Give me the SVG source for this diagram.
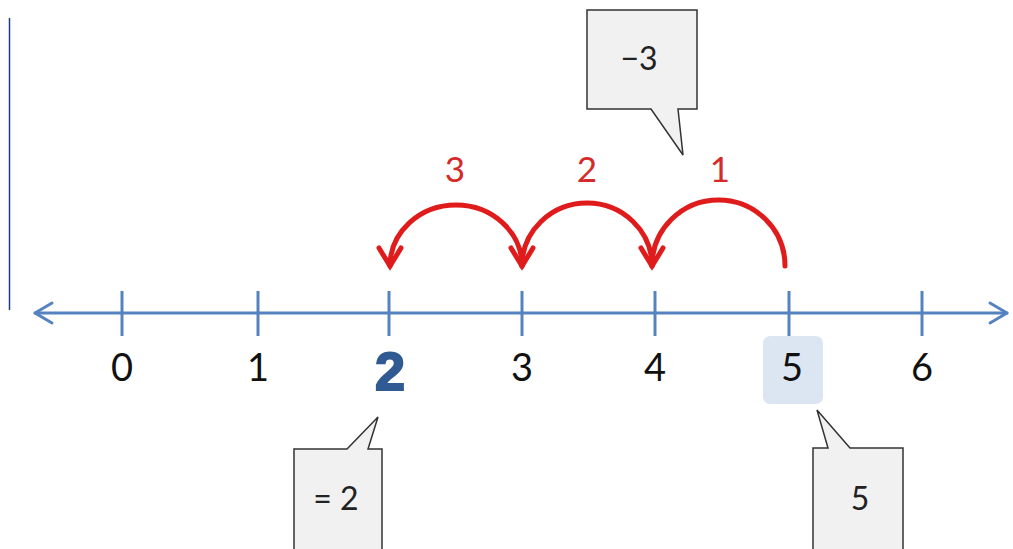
<svg xmlns="http://www.w3.org/2000/svg" width="1013" height="549" viewBox="0 0 1013 549">
<defs>
<style>
.axis{stroke:#5582c0;stroke-width:3;fill:none;stroke-linecap:round;stroke-linejoin:round}
.tick{stroke:#5582c0;stroke-width:3}
.num{font-family:Lato,"Open Sans",sans-serif;font-size:38px;fill:#111;text-anchor:middle}
.red{font-family:Lato,"Open Sans",sans-serif;font-size:35px;fill:#d42a2a;text-anchor:middle}
.jump{stroke:#e01b1b;stroke-width:5;fill:none;stroke-linecap:round}
.call{fill:#f1f1f1;stroke:#333;stroke-width:1.5;stroke-linejoin:miter}
.ctext{font-family:Lato,"Open Sans",sans-serif;font-size:32px;fill:#222;text-anchor:middle}
</style>
<marker id="ah" markerUnits="userSpaceOnUse" markerWidth="40" markerHeight="40" refX="0" refY="0" viewBox="-25 -20 30 40" orient="auto">
<path d="M-18,-11 L0,0 L-18,11" stroke="#e01b1b" stroke-width="5" fill="none" stroke-linecap="round" stroke-linejoin="miter"/>
</marker>
</defs>
<rect width="1013" height="549" fill="#fff"/>
<line x1="9.5" y1="18" x2="9.5" y2="310" stroke="#1f3c88" stroke-width="1.5"/>
<g id="numberline">
<path class="axis" d="M35,313 H1007"/>
<path class="axis" d="M52,303 L35,313 L52,323"/>
<path class="axis" d="M990,303 L1007,313 L990,323"/>
<line class="tick" x1="122" y1="291" x2="122" y2="336"/>
<line class="tick" x1="258" y1="291" x2="258" y2="336"/>
<line class="tick" x1="389" y1="291" x2="389" y2="336"/>
<line class="tick" x1="522" y1="291" x2="522" y2="336"/>
<line class="tick" x1="655" y1="291" x2="655" y2="336"/>
<line class="tick" x1="789" y1="291" x2="789" y2="336"/>
<line class="tick" x1="922" y1="291" x2="922" y2="336"/>
</g>
<g id="labels">
<text class="num" x="122" y="381">0</text>
<text class="num" x="258" y="381">1</text>
<text x="390" y="390" font-family="'Liberation Sans',Arial,sans-serif" font-weight="bold" font-size="54" fill="#2f5a92" stroke="#2f5a92" stroke-width="2" text-anchor="middle">2</text>
<text class="num" x="522" y="381">3</text>
<text class="num" x="655" y="381">4</text>
</g>
<g id="highlight5">
<rect x="763" y="336" width="60" height="68" rx="7" fill="#dce6f2"/>
<text class="num" x="792" y="381">5</text>
</g>
<g id="label6"><text class="num" x="922" y="381">6</text></g>
<g id="connectors">
<path class="jump" d="M785,266 A66.5,66 0 0 0 652,266" marker-end="url(#ah)"/>
<path class="jump" d="M652,266 A65,63 0 0 0 522,266" marker-end="url(#ah)"/>
<path class="jump" d="M522,266 A66,61 0 0 0 390,266" marker-end="url(#ah)"/>
</g>
<g id="steps">
<text class="red" x="455" y="182">3</text>
<text class="red" x="587" y="182">2</text>
<text class="red" x="720" y="182">1</text>
</g>
<g id="callout-minus3">
<path class="call" d="M587,10 H697 V109 H678 L683,155 L651,109 H587 Z"/>
<text class="ctext" x="639" y="70">−3</text>
</g>
<g id="callout-eq2">
<path class="call" d="M294,449 H347 L378,417 L368,449 H382 V560 H294 Z"/>
<text class="ctext" x="336" y="510">= 2</text>
</g>
<g id="callout-5">
<path class="call" d="M813,448 H828 L817,410 L850,448 H903 V560 H813 Z"/>
<text class="ctext" x="860" y="510">5</text>
</g>
</svg>
